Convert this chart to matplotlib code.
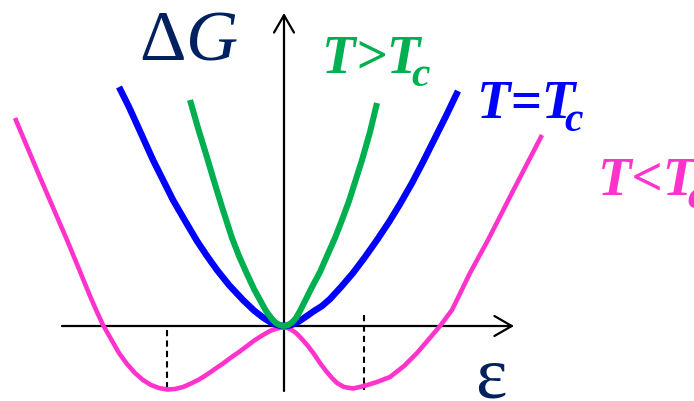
import matplotlib
matplotlib.use("Agg")
import matplotlib.pyplot as plt
from matplotlib.transforms import IdentityTransform

plt.rcParams['mathtext.fontset'] = 'custom'
plt.rcParams['mathtext.rm'] = 'Liberation Serif'
plt.rcParams['mathtext.it'] = 'Liberation Serif:italic'
plt.rcParams['lines.scale_dashes'] = False

# Landau free energy ΔG(ε) for three temperatures (arbitrary units)
eps_above = [-0.94, -0.86, -0.78, -0.70, -0.62, -0.52, -0.45, -0.37, -0.30, -0.24, -0.18,
             -0.12, -0.08, -0.04, 0.0, 0.04, 0.08, 0.12, 0.16, 0.21, 0.28, 0.36, 0.43,
             0.51, 0.58, 0.65, 0.72, 0.78, 0.86, 0.93]
G_above = [2.26, 1.98, 1.72, 1.45, 1.19, 0.88, 0.70, 0.52, 0.37, 0.26, 0.15,
           0.07, 0.03, 0.008, 0.0, 0.01, 0.035, 0.08, 0.15, 0.25, 0.39, 0.54, 0.70,
           0.88, 1.06, 1.25, 1.47, 1.66, 1.94, 2.23]

eps_crit = [-1.65, -1.55, -1.45, -1.31, -1.20, -1.11, -1.00, -0.87, -0.77, -0.67, -0.55,
            -0.41, -0.30, -0.21, -0.14, -0.08, -0.04, 0.0, 0.04, 0.08, 0.14, 0.20, 0.30,
            0.38, 0.46, 0.57, 0.69, 0.81, 0.93, 1.05, 1.16, 1.28, 1.39, 1.50, 1.62, 1.74]
G_crit = [2.39, 2.19, 1.97, 1.66, 1.44, 1.26, 1.07, 0.85, 0.70, 0.56, 0.41,
          0.26, 0.155, 0.085, 0.04, 0.013, 0.003, 0.0, 0.003, 0.013, 0.04, 0.08, 0.15,
          0.20, 0.27, 0.39, 0.53, 0.69, 0.86, 1.04, 1.22, 1.43, 1.64, 1.86, 2.10, 2.35]

eps_below = [-2.69, -2.45, -2.17, -2.05, -1.94, -1.87, -1.81, -1.73, -1.65, -1.57, -1.49,
             -1.41, -1.33, -1.25, -1.17, -1.09, -1.01, -0.93, -0.85, -0.77, -0.69, -0.61,
             -0.53, -0.45, -0.37, -0.29, -0.21, -0.14, -0.08, -0.03, 0.0, 0.03, 0.07,
             0.12, 0.17, 0.24, 0.30, 0.36, 0.42, 0.48, 0.53, 0.60, 0.69, 0.80, 0.93,
             1.06, 1.20, 1.33, 1.45, 1.56, 1.68, 1.86, 2.04, 2.30, 2.58]
G_below = [2.08, 1.51, 0.86, 0.57, 0.30, 0.14, 0.01, -0.13, -0.27, -0.38, -0.47,
           -0.54, -0.59, -0.62, -0.635, -0.63, -0.61, -0.575, -0.535, -0.485, -0.43, -0.375,
           -0.315, -0.26, -0.20, -0.14, -0.09, -0.05, -0.027, -0.017, -0.015, -0.018, -0.035,
           -0.07, -0.12, -0.20, -0.28, -0.37, -0.45, -0.52, -0.57, -0.61, -0.625, -0.60, -0.56,
           -0.51, -0.40, -0.27, -0.13, 0.0, 0.16, 0.53, 0.86, 1.37, 1.91]

# equilibrium order parameters (minima of the T<Tc curve)
eps_eq = [-1.17, 0.80]
G_eq = [-0.64, -0.62]

labels = ["T>T", "T=T", "T<T"]
sub = "c"

NAVY = "#002060"
GREEN = "#00b050"
BLUE = "#0000ff"
PINK = "#ff33cc"

fig = plt.figure(figsize=(6.94, 4.01), dpi=100)
ax = fig.add_axes([0, 0, 1, 1])
ax.set_xlim(-2.84, 4.10)
ax.set_ylim(-0.75, 3.26)
ax.axis("off")

# coordinate axes with open arrow heads
arrow = dict(arrowstyle="->,head_length=1.25,head_width=0.72", mutation_scale=10,
             lw=1.6, color="black", shrinkA=0, shrinkB=0)
ax.annotate("", xy=(2.30, 0.0), xytext=(-2.22, 0.0), arrowprops=arrow, zorder=1)
ax.annotate("", xy=(0.0, 3.13), xytext=(0.0, -0.65), arrowprops=arrow, zorder=1)

# dashed markers at the equilibrium order parameter
ax.plot([eps_eq[0], eps_eq[0]], [-0.04, G_eq[0]], color="black", lw=1.5,
        dashes=(4.5, 3), zorder=2)
ax.plot([eps_eq[1], eps_eq[1]], [0.11, G_eq[1] - 0.02], color="black", lw=1.5,
        dashes=(4.5, 3), zorder=2)

ax.plot(eps_below, G_below, color=PINK, lw=3.3, solid_joinstyle="round",
        solid_capstyle="butt", zorder=3)
ax.plot(eps_crit, G_crit, color=BLUE, lw=4.7, solid_joinstyle="round",
        solid_capstyle="butt", zorder=4)
ax.plot(eps_above, G_above, color=GREEN, lw=4.4, solid_joinstyle="round",
        solid_capstyle="butt", zorder=5)

fig.canvas.draw()
renderer = fig.canvas.get_renderer()


def temp_label(x, y, text, color, sub_shift):
    t = ax.text(x, y, text, color=color, fontsize=39.5, family="Liberation Serif",
                weight="bold", style="italic", ha="left", va="baseline")
    bb = t.get_window_extent(renderer)
    bx, by = ax.transData.transform((x, y))
    fig.text(bb.x1 + sub_shift, by - 13, sub, color=color, fontsize=30,
             family="Liberation Serif", weight="bold", style="italic",
             ha="left", va="baseline", transform=IdentityTransform())


temp_label(0.38, 2.53, labels[0], GREEN, -9)
temp_label(1.93, 2.08, labels[1], BLUE, -11)
temp_label(3.14, 1.31, labels[2], PINK, -9)

ax.text(-1.45, 2.66, r"$\mathrm{\Delta}\mathit{G}$", color=NAVY, fontsize=52,
        ha="left", va="baseline")
ax.text(1.91, -0.71, "ε", color=NAVY, fontsize=54, family="Liberation Serif",
        ha="left", va="baseline")

fig.savefig("out.png", dpi=100)
